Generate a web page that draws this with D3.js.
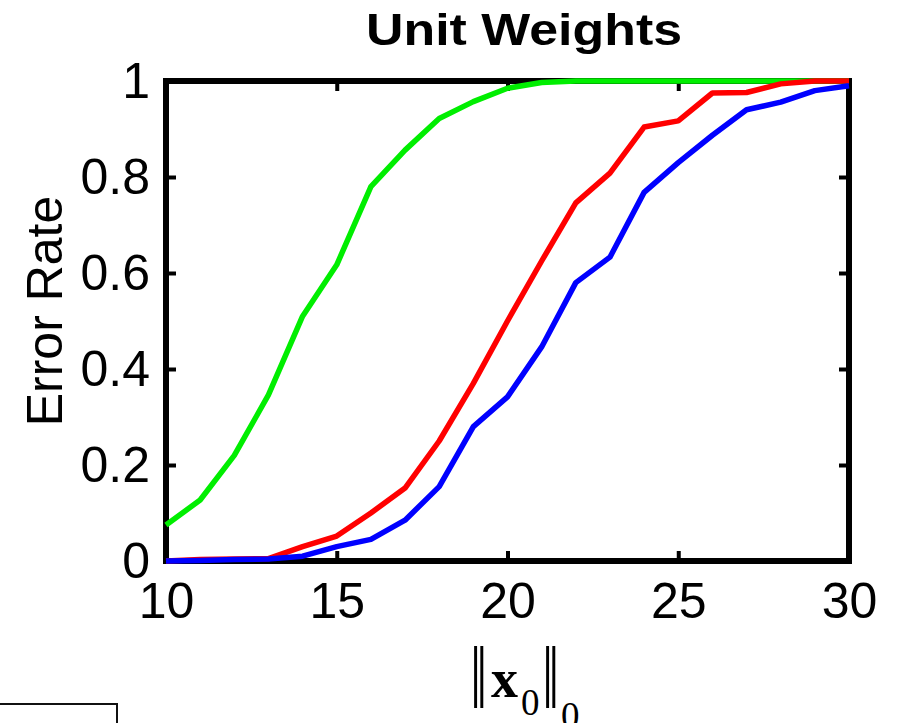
<!DOCTYPE html>
<html>
<head>
<meta charset="utf-8">
<script src="https://cdn.jsdelivr.net/npm/d3@7"></script>
<style>
  body { margin: 0; background: #fff; }
  svg { display: block; }
  .tick text { font-family: "Liberation Sans", Arial, sans-serif; font-size: 50px; fill: #000; }
  .tick line { stroke: #000; stroke-width: 4; }
</style>
</head>
<body>
<div id="chart"></div>
<script>
// data
const sparsity = [10, 11, 12, 13, 14, 15, 16, 17, 18, 19, 20, 21, 22, 23, 24, 25, 26, 27, 28, 29, 30];
const greenErr = [0.075, 0.127, 0.22, 0.346, 0.51, 0.617, 0.78, 0.856, 0.922, 0.957, 0.985, 0.997, 1, 1, 1, 1, 1, 1, 1, 1, 1];
const redErr   = [0, 0.003, 0.004, 0.005, 0.03, 0.052, 0.10, 0.152, 0.25, 0.37, 0.50, 0.625, 0.746, 0.808, 0.904, 0.917, 0.975, 0.976, 0.994, 1, 1];
const blueErr  = [0, 0.001, 0.003, 0.004, 0.01, 0.03, 0.045, 0.085, 0.155, 0.28, 0.342, 0.446, 0.58, 0.633, 0.768, 0.83, 0.887, 0.94, 0.956, 0.98, 0.99];
const xTicks = [10, 15, 20, 25, 30];
const yTicks = [0, 0.2, 0.4, 0.6, 0.8, 1];
const yTickLabels = ["0", "0.2", "0.4", "0.6", "0.8", "1"];

const W = 898, H = 723;
const margin = { top: 81, right: 49, bottom: 162, left: 166 },
      width = W - margin.left - margin.right,
      height = H - margin.top - margin.bottom;

const svgRoot = d3.select("#chart").append("svg")
    .attr("width", W)
    .attr("height", H);

const svg = svgRoot.append("g")
    .attr("transform", `translate(${margin.left},${margin.top})`);

const x = d3.scaleLinear().domain([10, 30]).range([0, width]);
const y = d3.scaleLinear().domain([0, 1]).range([height, 0]);

// axes, ticks pointing inward
const gx = svg.append("g")
    .attr("transform", `translate(0,${height})`)
    .call(d3.axisBottom(x).tickValues(xTicks).tickSizeInner(-10).tickSizeOuter(0).tickPadding(21));
gx.select(".domain").remove();
gx.selectAll("text").attr("dy", "0.71em");

const gy = svg.append("g")
    .call(d3.axisLeft(y).tickValues(yTicks).tickFormat((d, i) => yTickLabels[i])
        .tickSizeInner(-10).tickSizeOuter(0).tickPadding(16));
gy.select(".domain").remove();

const gt = svg.append("g")
    .call(d3.axisTop(x).tickValues(xTicks).tickSizeInner(-10).tickSizeOuter(0).tickFormat(""));
gt.select(".domain").remove();

const gr = svg.append("g")
    .attr("transform", `translate(${width},0)`)
    .call(d3.axisRight(y).tickValues(yTicks).tickSizeInner(-10).tickSizeOuter(0).tickFormat(""));
gr.select(".domain").remove();

// frame
svg.append("rect")
    .attr("x", 0).attr("y", 0)
    .attr("width", width).attr("height", height)
    .attr("fill", "none")
    .attr("stroke", "#000")
    .attr("stroke-width", 6);

// lines
const line = d3.line()
    .x((d, i) => x(sparsity[i]))
    .y(d => y(d));

const series = [
  { values: greenErr, color: "#00ee00" },
  { values: redErr, color: "#ff0000" },
  { values: blueErr, color: "#0000ff" }
];

svg.selectAll(".series")
    .data(series)
    .enter()
    .append("path")
    .attr("class", "series")
    .attr("d", d => line(d.values))
    .attr("fill", "none")
    .attr("stroke", d => d.color)
    .attr("stroke-width", 5.5)
    .attr("stroke-linejoin", "round");

// title
svgRoot.append("text")
    .attr("x", 524)
    .attr("y", 45)
    .attr("text-anchor", "middle")
    .attr("font-family", "Liberation Sans, Arial, sans-serif")
    .attr("font-weight", "bold")
    .attr("font-size", 45)
    .attr("textLength", 316)
    .attr("lengthAdjust", "spacingAndGlyphs")
    .text("Unit Weights");

// y label
svgRoot.append("text")
    .attr("transform", "translate(62,311) rotate(-90)")
    .attr("text-anchor", "middle")
    .attr("font-family", "Liberation Sans, Arial, sans-serif")
    .attr("font-size", 50)
    .text("Error Rate");

// x label: ||x0||0
const serif = "Liberation Serif, Times New Roman, serif";
svgRoot.append("text")
    .attr("transform", "translate(470,708) scale(1,1.45)")
    .attr("font-family", serif).attr("font-size", 62)
    .text("\u2016");
svgRoot.append("text")
    .attr("transform", "translate(542,708) scale(1,1.45)")
    .attr("font-family", serif).attr("font-size", 62)
    .text("\u2016");
const xl = svgRoot.append("text")
    .attr("font-family", serif)
    .attr("fill", "#000");
xl.append("tspan").attr("x", 491).attr("y", 697).attr("font-size", 54).attr("font-weight", "bold").text("x");
xl.append("tspan").attr("x", 521).attr("y", 715).attr("font-size", 37).text("0");
xl.append("tspan").attr("x", 561).attr("y", 728).attr("font-size", 37).text("0");

// partial box at bottom-left
svgRoot.append("path")
    .attr("d", "M0,704 H117 V723")
    .attr("fill", "none")
    .attr("stroke", "#111")
    .attr("stroke-width", 2);
</script>
</body>
</html>
